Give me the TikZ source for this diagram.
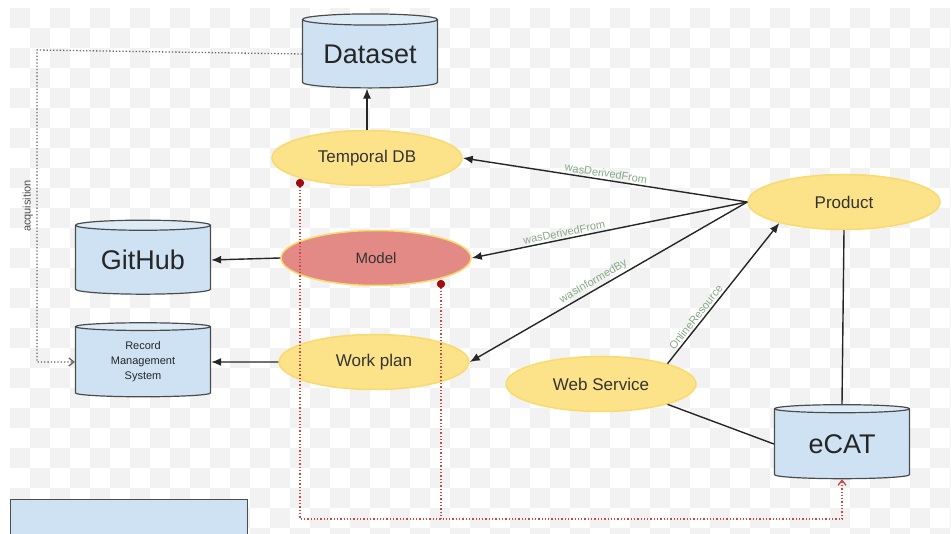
\documentclass[tikz,border=0pt]{standalone}
\usepackage{fontspec}
\setmainfont{Liberation Sans}
\usepackage{tikz}
\usetikzlibrary{arrows.meta, positioning, shapes.geometric}

\definecolor{dbblue}{HTML}{CFE2F3}
\definecolor{dbtop}{HTML}{DDEBF7}
\definecolor{ovalyellow}{HTML}{FCE38A}
\definecolor{ovalrim}{HTML}{F8DA6E}
\definecolor{modelred}{HTML}{E48A86}
\definecolor{relgreen}{HTML}{86A886}
\definecolor{linkred}{HTML}{C8474A}
\definecolor{dotred}{HTML}{A00C12}
\definecolor{checker}{HTML}{F2F2F2}

\begin{document}
\begin{tikzpicture}[
                x=1pt, y=-1pt,
                store/.style={cylinder, shape border rotate=90, aspect=0.12, draw=black!70, line width=1.2pt, cylinder uses custom fill, cylinder body fill=dbblue, cylinder end fill=dbtop, minimum width=135pt, minimum height=74pt, inner sep=0pt, align=center, font=\fontsize{27}{30}\selectfont, text=black!85},
                oval/.style={ellipse, draw=ovalrim, line width=1.5pt, fill=ovalyellow, minimum width=190pt, minimum height=55pt, inner sep=0pt, font=\fontsize{17}{19}\selectfont, text=black!80},
                link/.style={-{Latex[length=10pt,width=8pt]}, line width=1.4pt, black!85},
                rel/.style={sloped, above, inner sep=2pt, font=\fontsize{11}{12}\selectfont, text=relgreen},
                trace/.style={dotted, line width=1.3pt, linkred},
                pin/.style={circle, fill=dotred, inner sep=0pt, minimum size=8pt}
            ]
                \useasboundingbox (0,0) rectangle (951,534);
                \clip (0,0) rectangle (951,534);
                % faint checker behind everything
                \foreach \cx in {10,50,...,950}
                    \foreach \cy in {8,48,...,534}
                    {
                        \fill[checker] (\cx,\cy) rectangle ++(20,20);
                        \fill[checker] (\cx+20,\cy+20) rectangle ++(20,20);
                    }

                \node[store] (dataset) at (370,54) {Dataset};
                \node[store] (github) at (143,260) {GitHub};
                \node[store, font=\fontsize{11}{15}\selectfont] (rms) at (143,362) {Record\\Management\\System};
                \node[store] (ecat) at (842,444) {eCAT};

                \node[oval] (tempdb) at (367,158) {Temporal DB};
                \node[oval, fill=modelred, font=\fontsize{15}{18}\selectfont] (model) at (376,258) {Model};
                \node[oval] (workplan) at (374,362) {Work plan};
                \node[oval] (websvc) at (601,384) {Web Service};
                \node[oval, minimum width=192pt] (product) at (844,202) {Product};

                \node[rectangle, draw=black!70, line width=1.2pt, fill=dbblue, anchor=north west, minimum width=237pt, minimum height=60pt] (panel) at (10,499) {};

                \draw[link] (tempdb.north) -- (tempdb.north |- dataset.south);
                \draw[link] (model.west) -- (github.east);
                \draw[link] (workplan.west) -- (rms.east);
                \draw[link] (product.west) -- node[rel, pos=0.5] {wasDerivedFrom} (tempdb.east);
                \draw[link] (product.west) -- node[rel, pos=0.66] {wasDerivedFrom} (model.east);
                \draw[link] (product.west) -- node[rel, pos=0.54] {wasInformedBy} (workplan.east);
                \draw[link] (websvc.17) -- node[rel, pos=0.3] {OnlineResource} (product.198);
                \draw[line width=1.4pt, black!85] (product.south) -- (ecat.north);
                \draw[line width=1.4pt, black!85] (websvc.-17) -- (ecat.west);

                % acquisition
                \coordinate (acqtop) at (37,50);
                \draw[dotted, line width=1.3pt, black!60, -{Straight Barb[length=5pt,width=8pt]}] (dataset.west) -- (acqtop) |- node[pos=0.25, left=0pt, rotate=90, anchor=south, font=\fontsize{11}{12}\selectfont, text=black!70] {acquisition} (rms.west);

                % red trace to eCAT
                \node[pin] (tdbpin) at (300,183) {};
                \node[pin] (modelpin) at (441,284) {};
                \coordinate (tracebase) at (300,519);
                \draw[trace, -{Straight Barb[length=5pt,width=8pt]}] (tdbpin.center) -- (tdbpin |- tracebase) -| (ecat.south);
                \draw[trace] (modelpin.center) -- (modelpin |- tracebase);
                \node[pin] at (tdbpin) {};
                \node[pin] at (modelpin) {};
            \end{tikzpicture}
\end{document}
